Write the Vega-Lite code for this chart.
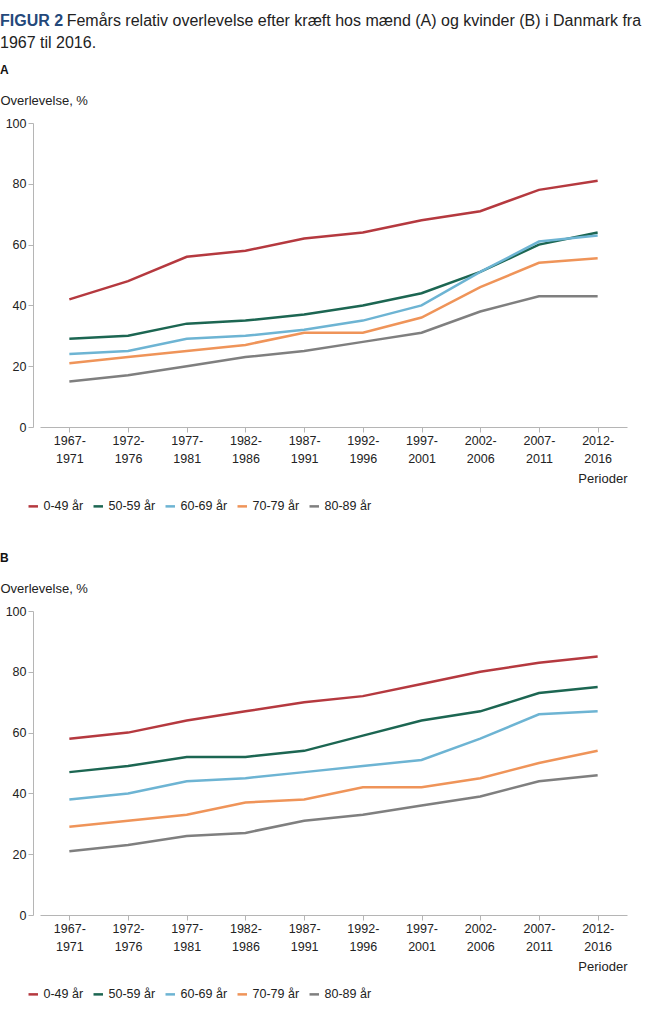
{
  "$schema": "https://vega.github.io/schema/vega-lite/v6.json",
  "padding": {"left": 0, "right": 0, "top": 13, "bottom": 0},
  "background": "white",
  "title": {
    "text": "FIGUR 2",
    "color": "#24487a",
    "fontWeight": "bold",
    "fontSize": 16,
    "anchor": "start",
    "offset": 13,
    "subtitle": ["\u200b\u00a0\u00a0\u00a0\u00a0\u00a0\u00a0\u00a0\u00a0\u00a0\u00a0\u00a0\u00a0\u00a0\u00a0\u00a0Femårs relativ overlevelse efter kræft hos mænd (A) og kvinder (B) i Danmark fra", "1967 til 2016."],
    "subtitleFontSize": 16,
    "subtitleColor": "#222222",
    "subtitlePadding": -16,
    "subtitleLineHeight": 22
  },
  "data": {
    "values": [
      {"panel": "A", "period": "1967-1971", "group": "0-49 år", "value": 42},
      {"panel": "A", "period": "1972-1976", "group": "0-49 år", "value": 48},
      {"panel": "A", "period": "1977-1981", "group": "0-49 år", "value": 56},
      {"panel": "A", "period": "1982-1986", "group": "0-49 år", "value": 58},
      {"panel": "A", "period": "1987-1991", "group": "0-49 år", "value": 62},
      {"panel": "A", "period": "1992-1996", "group": "0-49 år", "value": 64},
      {"panel": "A", "period": "1997-2001", "group": "0-49 år", "value": 68},
      {"panel": "A", "period": "2002-2006", "group": "0-49 år", "value": 71},
      {"panel": "A", "period": "2007-2011", "group": "0-49 år", "value": 78},
      {"panel": "A", "period": "2012-2016", "group": "0-49 år", "value": 81},
      {"panel": "A", "period": "1967-1971", "group": "50-59 år", "value": 29},
      {"panel": "A", "period": "1972-1976", "group": "50-59 år", "value": 30},
      {"panel": "A", "period": "1977-1981", "group": "50-59 år", "value": 34},
      {"panel": "A", "period": "1982-1986", "group": "50-59 år", "value": 35},
      {"panel": "A", "period": "1987-1991", "group": "50-59 år", "value": 37},
      {"panel": "A", "period": "1992-1996", "group": "50-59 år", "value": 40},
      {"panel": "A", "period": "1997-2001", "group": "50-59 år", "value": 44},
      {"panel": "A", "period": "2002-2006", "group": "50-59 år", "value": 51},
      {"panel": "A", "period": "2007-2011", "group": "50-59 år", "value": 60},
      {"panel": "A", "period": "2012-2016", "group": "50-59 år", "value": 64},
      {"panel": "A", "period": "1967-1971", "group": "60-69 år", "value": 24},
      {"panel": "A", "period": "1972-1976", "group": "60-69 år", "value": 25},
      {"panel": "A", "period": "1977-1981", "group": "60-69 år", "value": 29},
      {"panel": "A", "period": "1982-1986", "group": "60-69 år", "value": 30},
      {"panel": "A", "period": "1987-1991", "group": "60-69 år", "value": 32},
      {"panel": "A", "period": "1992-1996", "group": "60-69 år", "value": 35},
      {"panel": "A", "period": "1997-2001", "group": "60-69 år", "value": 40},
      {"panel": "A", "period": "2002-2006", "group": "60-69 år", "value": 51},
      {"panel": "A", "period": "2007-2011", "group": "60-69 år", "value": 61},
      {"panel": "A", "period": "2012-2016", "group": "60-69 år", "value": 63},
      {"panel": "A", "period": "1967-1971", "group": "70-79 år", "value": 21},
      {"panel": "A", "period": "1972-1976", "group": "70-79 år", "value": 23},
      {"panel": "A", "period": "1977-1981", "group": "70-79 år", "value": 25},
      {"panel": "A", "period": "1982-1986", "group": "70-79 år", "value": 27},
      {"panel": "A", "period": "1987-1991", "group": "70-79 år", "value": 31},
      {"panel": "A", "period": "1992-1996", "group": "70-79 år", "value": 31},
      {"panel": "A", "period": "1997-2001", "group": "70-79 år", "value": 36},
      {"panel": "A", "period": "2002-2006", "group": "70-79 år", "value": 46},
      {"panel": "A", "period": "2007-2011", "group": "70-79 år", "value": 54},
      {"panel": "A", "period": "2012-2016", "group": "70-79 år", "value": 55.5},
      {"panel": "A", "period": "1967-1971", "group": "80-89 år", "value": 15},
      {"panel": "A", "period": "1972-1976", "group": "80-89 år", "value": 17},
      {"panel": "A", "period": "1977-1981", "group": "80-89 år", "value": 20},
      {"panel": "A", "period": "1982-1986", "group": "80-89 år", "value": 23},
      {"panel": "A", "period": "1987-1991", "group": "80-89 år", "value": 25},
      {"panel": "A", "period": "1992-1996", "group": "80-89 år", "value": 28},
      {"panel": "A", "period": "1997-2001", "group": "80-89 år", "value": 31},
      {"panel": "A", "period": "2002-2006", "group": "80-89 år", "value": 38},
      {"panel": "A", "period": "2007-2011", "group": "80-89 år", "value": 43},
      {"panel": "A", "period": "2012-2016", "group": "80-89 år", "value": 43},
      {"panel": "B", "period": "1967-1971", "group": "0-49 år", "value": 58},
      {"panel": "B", "period": "1972-1976", "group": "0-49 år", "value": 60},
      {"panel": "B", "period": "1977-1981", "group": "0-49 år", "value": 64},
      {"panel": "B", "period": "1982-1986", "group": "0-49 år", "value": 67},
      {"panel": "B", "period": "1987-1991", "group": "0-49 år", "value": 70},
      {"panel": "B", "period": "1992-1996", "group": "0-49 år", "value": 72},
      {"panel": "B", "period": "1997-2001", "group": "0-49 år", "value": 76},
      {"panel": "B", "period": "2002-2006", "group": "0-49 år", "value": 80},
      {"panel": "B", "period": "2007-2011", "group": "0-49 år", "value": 83},
      {"panel": "B", "period": "2012-2016", "group": "0-49 år", "value": 85},
      {"panel": "B", "period": "1967-1971", "group": "50-59 år", "value": 47},
      {"panel": "B", "period": "1972-1976", "group": "50-59 år", "value": 49},
      {"panel": "B", "period": "1977-1981", "group": "50-59 år", "value": 52},
      {"panel": "B", "period": "1982-1986", "group": "50-59 år", "value": 52},
      {"panel": "B", "period": "1987-1991", "group": "50-59 år", "value": 54},
      {"panel": "B", "period": "1992-1996", "group": "50-59 år", "value": 59},
      {"panel": "B", "period": "1997-2001", "group": "50-59 år", "value": 64},
      {"panel": "B", "period": "2002-2006", "group": "50-59 år", "value": 67},
      {"panel": "B", "period": "2007-2011", "group": "50-59 år", "value": 73},
      {"panel": "B", "period": "2012-2016", "group": "50-59 år", "value": 75},
      {"panel": "B", "period": "1967-1971", "group": "60-69 år", "value": 38},
      {"panel": "B", "period": "1972-1976", "group": "60-69 år", "value": 40},
      {"panel": "B", "period": "1977-1981", "group": "60-69 år", "value": 44},
      {"panel": "B", "period": "1982-1986", "group": "60-69 år", "value": 45},
      {"panel": "B", "period": "1987-1991", "group": "60-69 år", "value": 47},
      {"panel": "B", "period": "1992-1996", "group": "60-69 år", "value": 49},
      {"panel": "B", "period": "1997-2001", "group": "60-69 år", "value": 51},
      {"panel": "B", "period": "2002-2006", "group": "60-69 år", "value": 58},
      {"panel": "B", "period": "2007-2011", "group": "60-69 år", "value": 66},
      {"panel": "B", "period": "2012-2016", "group": "60-69 år", "value": 67},
      {"panel": "B", "period": "1967-1971", "group": "70-79 år", "value": 29},
      {"panel": "B", "period": "1972-1976", "group": "70-79 år", "value": 31},
      {"panel": "B", "period": "1977-1981", "group": "70-79 år", "value": 33},
      {"panel": "B", "period": "1982-1986", "group": "70-79 år", "value": 37},
      {"panel": "B", "period": "1987-1991", "group": "70-79 år", "value": 38},
      {"panel": "B", "period": "1992-1996", "group": "70-79 år", "value": 42},
      {"panel": "B", "period": "1997-2001", "group": "70-79 år", "value": 42},
      {"panel": "B", "period": "2002-2006", "group": "70-79 år", "value": 45},
      {"panel": "B", "period": "2007-2011", "group": "70-79 år", "value": 50},
      {"panel": "B", "period": "2012-2016", "group": "70-79 år", "value": 54},
      {"panel": "B", "period": "1967-1971", "group": "80-89 år", "value": 21},
      {"panel": "B", "period": "1972-1976", "group": "80-89 år", "value": 23},
      {"panel": "B", "period": "1977-1981", "group": "80-89 år", "value": 26},
      {"panel": "B", "period": "1982-1986", "group": "80-89 år", "value": 27},
      {"panel": "B", "period": "1987-1991", "group": "80-89 år", "value": 31},
      {"panel": "B", "period": "1992-1996", "group": "80-89 år", "value": 33},
      {"panel": "B", "period": "1997-2001", "group": "80-89 år", "value": 36},
      {"panel": "B", "period": "2002-2006", "group": "80-89 år", "value": 39},
      {"panel": "B", "period": "2007-2011", "group": "80-89 år", "value": 44},
      {"panel": "B", "period": "2012-2016", "group": "80-89 år", "value": 46}
    ]
  },
  "spacing": 39,
  "resolve": {"legend": {"color": "independent"}},
  "vconcat": [
    {
      "width": 617,
      "height": 304,
      "title": {"text": "A", "anchor": "start", "fontSize": 12, "fontWeight": "bold", "offset": 17, "color": "#111111"},
      "transform": [{"filter": "datum.panel === 'A'"}],
      "mark": {"type": "line", "strokeWidth": 2.5},
      "encoding": {
        "x": {
          "field": "period", "type": "ordinal", "sort": null,
          "scale": {"type": "point", "range": [7, 594]},
          "axis": {"title": "Perioder", "titleAnchor": "end", "titleAlign": "right", "titlePadding": 8, "labelAngle": 0, "labelExpr": "[slice(datum.label, 0, 5), slice(datum.label, 5)]", "labelLineHeight": 18, "labelPadding": 2, "tickSize": 5}
        },
        "y": {
          "field": "value", "type": "quantitative",
          "scale": {"domain": [0, 100]},
          "axis": {"values": [0, 20, 40, 60, 80, 100], "title": "Overlevelse, %", "titleAngle": 0, "titleX": -33, "titleY": -23, "titleAlign": "left", "titleBaseline": "middle", "tickSize": 5, "labelPadding": 2}
        },
        "color": {
          "field": "group", "type": "nominal",
          "scale": {"domain": ["0-49 år", "50-59 år", "60-69 år", "70-79 år", "80-89 år"], "range": ["#b5393f", "#1c6652", "#6db4d3", "#ef9459", "#7f7f7f"]},
          "legend": {"orient": "none", "legendX": -6, "legendY": 377, "direction": "horizontal", "title": null}
        }
      }
    },
    {
      "width": 617,
      "height": 304,
      "title": {"text": "B", "anchor": "start", "fontSize": 12, "fontWeight": "bold", "offset": 17, "color": "#111111"},
      "transform": [{"filter": "datum.panel === 'B'"}],
      "mark": {"type": "line", "strokeWidth": 2.5},
      "encoding": {
        "x": {
          "field": "period", "type": "ordinal", "sort": null,
          "scale": {"type": "point", "range": [7, 594]},
          "axis": {"title": "Perioder", "titleAnchor": "end", "titleAlign": "right", "titlePadding": 8, "labelAngle": 0, "labelExpr": "[slice(datum.label, 0, 5), slice(datum.label, 5)]", "labelLineHeight": 18, "labelPadding": 2, "tickSize": 5}
        },
        "y": {
          "field": "value", "type": "quantitative",
          "scale": {"domain": [0, 100]},
          "axis": {"values": [0, 20, 40, 60, 80, 100], "title": "Overlevelse, %", "titleAngle": 0, "titleX": -33, "titleY": -23, "titleAlign": "left", "titleBaseline": "middle", "tickSize": 5, "labelPadding": 2}
        },
        "color": {
          "field": "group", "type": "nominal",
          "scale": {"domain": ["0-49 år", "50-59 år", "60-69 år", "70-79 år", "80-89 år"], "range": ["#b5393f", "#1c6652", "#6db4d3", "#ef9459", "#7f7f7f"]},
          "legend": {"orient": "none", "legendX": -6, "legendY": 377, "direction": "horizontal", "title": null}
        }
      }
    }
  ],
  "config": {
    "font": "Liberation Sans",
    "view": {"stroke": null},
    "title": {"font": "Liberation Sans", "subtitleFont": "Liberation Sans"},
    "axis": {
      "grid": false,
      "domainColor": "#b5b5b5",
      "tickColor": "#b5b5b5",
      "labelColor": "#222222",
      "labelFontSize": 12.5,
      "labelFont": "Liberation Sans",
      "titleColor": "#222222",
      "titleFontSize": 13,
      "titleFontWeight": "normal",
      "titleFont": "Liberation Sans"
    },
    "legend": {
      "symbolType": "stroke",
      "symbolStrokeWidth": 2.5,
      "symbolSize": 90,
      "labelFontSize": 12.5,
      "labelColor": "#222222",
      "labelFont": "Liberation Sans",
      "labelOffset": 4,
      "columnPadding": 4
    }
  }
}
